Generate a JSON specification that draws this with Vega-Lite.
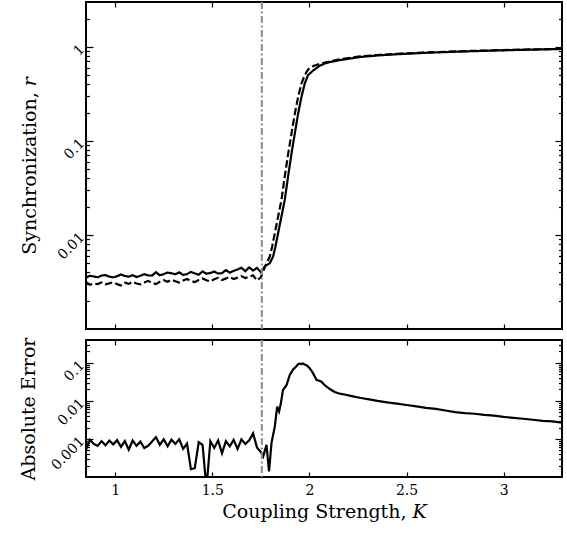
{
  "$schema": "https://vega.github.io/schema/vega-lite/v6.json",
  "padding": {"left": 18, "top": 0, "right": 4, "bottom": 2},
  "spacing": 5,
  "datasets": {
    "sync": [
      {"K":0.85,"r":0.00352,"s":"sim"},{"K":0.87,"r":0.00368,"s":"sim"},{"K":0.89,"r":0.00362,"s":"sim"},{"K":0.91,"r":0.00355,"s":"sim"},{"K":0.93,"r":0.0037,"s":"sim"},{"K":0.95,"r":0.00374,"s":"sim"},{"K":0.97,"r":0.0036,"s":"sim"},{"K":0.99,"r":0.00354,"s":"sim"},{"K":1.01,"r":0.00364,"s":"sim"},{"K":1.03,"r":0.0038,"s":"sim"},{"K":1.05,"r":0.00366,"s":"sim"},{"K":1.07,"r":0.0036,"s":"sim"},{"K":1.09,"r":0.00374,"s":"sim"},{"K":1.11,"r":0.00357,"s":"sim"},{"K":1.13,"r":0.00368,"s":"sim"},{"K":1.15,"r":0.00383,"s":"sim"},{"K":1.17,"r":0.00371,"s":"sim"},{"K":1.19,"r":0.0037,"s":"sim"},{"K":1.21,"r":0.00402,"s":"sim"},{"K":1.23,"r":0.00372,"s":"sim"},{"K":1.25,"r":0.00384,"s":"sim"},{"K":1.27,"r":0.00398,"s":"sim"},{"K":1.29,"r":0.00392,"s":"sim"},{"K":1.31,"r":0.00382,"s":"sim"},{"K":1.33,"r":0.004,"s":"sim"},{"K":1.35,"r":0.00375,"s":"sim"},{"K":1.37,"r":0.00384,"s":"sim"},{"K":1.39,"r":0.00405,"s":"sim"},{"K":1.41,"r":0.0039,"s":"sim"},{"K":1.43,"r":0.00378,"s":"sim"},{"K":1.45,"r":0.0041,"s":"sim"},{"K":1.47,"r":0.00387,"s":"sim"},{"K":1.49,"r":0.00394,"s":"sim"},{"K":1.51,"r":0.00408,"s":"sim"},{"K":1.53,"r":0.00389,"s":"sim"},{"K":1.55,"r":0.00392,"s":"sim"},{"K":1.57,"r":0.00423,"s":"sim"},{"K":1.59,"r":0.00397,"s":"sim"},{"K":1.61,"r":0.00415,"s":"sim"},{"K":1.63,"r":0.0043,"s":"sim"},{"K":1.65,"r":0.00448,"s":"sim"},{"K":1.67,"r":0.00412,"s":"sim"},{"K":1.69,"r":0.00452,"s":"sim"},{"K":1.71,"r":0.00418,"s":"sim"},{"K":1.73,"r":0.00446,"s":"sim"},{"K":1.75,"r":0.00402,"s":"sim"},
      {"K":1.76,"r":0.0043,"s":"sim"},{"K":1.77,"r":0.00464,"s":"sim"},{"K":1.796,"r":0.005,"s":"sim"},{"K":1.813,"r":0.0059,"s":"sim"},{"K":1.825,"r":0.0075,"s":"sim"},{"K":1.839,"r":0.0105,"s":"sim"},{"K":1.856,"r":0.0157,"s":"sim"},{"K":1.873,"r":0.0236,"s":"sim"},{"K":1.89,"r":0.0417,"s":"sim"},{"K":1.908,"r":0.0738,"s":"sim"},{"K":1.925,"r":0.121,"s":"sim"},{"K":1.942,"r":0.196,"s":"sim"},{"K":1.959,"r":0.294,"s":"sim"},{"K":1.976,"r":0.408,"s":"sim"},{"K":1.993,"r":0.501,"s":"sim"},{"K":2.019,"r":0.56,"s":"sim"},{"K":2.053,"r":0.63,"s":"sim"},{"K":2.079,"r":0.665,"s":"sim"},{"K":2.105,"r":0.69,"s":"sim"},{"K":2.16,"r":0.725,"s":"sim"},{"K":2.26,"r":0.78,"s":"sim"},{"K":2.35,"r":0.81,"s":"sim"},{"K":2.45,"r":0.835,"s":"sim"},{"K":2.6,"r":0.865,"s":"sim"},{"K":2.8,"r":0.895,"s":"sim"},{"K":3.0,"r":0.92,"s":"sim"},{"K":3.15,"r":0.935,"s":"sim"},{"K":3.3,"r":0.95,"s":"sim"},
      {"K":0.85,"r":0.00318,"s":"theory"},{"K":0.87,"r":0.00295,"s":"theory"},{"K":0.89,"r":0.00305,"s":"theory"},{"K":0.91,"r":0.003,"s":"theory"},{"K":0.93,"r":0.00312,"s":"theory"},{"K":0.95,"r":0.00298,"s":"theory"},{"K":0.97,"r":0.00306,"s":"theory"},{"K":0.99,"r":0.00315,"s":"theory"},{"K":1.01,"r":0.003,"s":"theory"},{"K":1.03,"r":0.0029,"s":"theory"},{"K":1.05,"r":0.0031,"s":"theory"},{"K":1.07,"r":0.00302,"s":"theory"},{"K":1.09,"r":0.00318,"s":"theory"},{"K":1.11,"r":0.00305,"s":"theory"},{"K":1.13,"r":0.00298,"s":"theory"},{"K":1.15,"r":0.00312,"s":"theory"},{"K":1.17,"r":0.00325,"s":"theory"},{"K":1.19,"r":0.0031,"s":"theory"},{"K":1.21,"r":0.003,"s":"theory"},{"K":1.23,"r":0.00318,"s":"theory"},{"K":1.25,"r":0.0033,"s":"theory"},{"K":1.27,"r":0.00318,"s":"theory"},{"K":1.29,"r":0.00335,"s":"theory"},{"K":1.31,"r":0.00322,"s":"theory"},{"K":1.33,"r":0.00312,"s":"theory"},{"K":1.35,"r":0.00328,"s":"theory"},{"K":1.37,"r":0.0034,"s":"theory"},{"K":1.39,"r":0.00325,"s":"theory"},{"K":1.41,"r":0.00315,"s":"theory"},{"K":1.43,"r":0.00332,"s":"theory"},{"K":1.45,"r":0.00345,"s":"theory"},{"K":1.47,"r":0.0033,"s":"theory"},{"K":1.49,"r":0.0032,"s":"theory"},{"K":1.51,"r":0.00338,"s":"theory"},{"K":1.53,"r":0.0035,"s":"theory"},{"K":1.55,"r":0.00332,"s":"theory"},{"K":1.57,"r":0.00345,"s":"theory"},{"K":1.59,"r":0.00358,"s":"theory"},{"K":1.61,"r":0.0034,"s":"theory"},{"K":1.63,"r":0.00352,"s":"theory"},{"K":1.65,"r":0.00365,"s":"theory"},{"K":1.67,"r":0.00348,"s":"theory"},{"K":1.69,"r":0.0036,"s":"theory"},{"K":1.71,"r":0.00372,"s":"theory"},{"K":1.73,"r":0.00328,"s":"theory"},{"K":1.75,"r":0.00355,"s":"theory"},
      {"K":1.76,"r":0.004,"s":"theory"},{"K":1.779,"r":0.005,"s":"theory"},{"K":1.796,"r":0.0059,"s":"theory"},{"K":1.808,"r":0.0075,"s":"theory"},{"K":1.822,"r":0.0105,"s":"theory"},{"K":1.839,"r":0.0157,"s":"theory"},{"K":1.856,"r":0.0236,"s":"theory"},{"K":1.873,"r":0.0417,"s":"theory"},{"K":1.891,"r":0.0738,"s":"theory"},{"K":1.908,"r":0.121,"s":"theory"},{"K":1.925,"r":0.196,"s":"theory"},{"K":1.942,"r":0.294,"s":"theory"},{"K":1.959,"r":0.408,"s":"theory"},{"K":1.976,"r":0.501,"s":"theory"},{"K":1.993,"r":0.575,"s":"theory"},{"K":2.02,"r":0.625,"s":"theory"},{"K":2.05,"r":0.655,"s":"theory"},{"K":2.08,"r":0.68,"s":"theory"},{"K":2.105,"r":0.7,"s":"theory"},{"K":2.16,"r":0.738,"s":"theory"},{"K":2.26,"r":0.792,"s":"theory"},{"K":2.35,"r":0.82,"s":"theory"},{"K":2.45,"r":0.845,"s":"theory"},{"K":2.6,"r":0.873,"s":"theory"},{"K":2.8,"r":0.902,"s":"theory"},{"K":3.0,"r":0.925,"s":"theory"},{"K":3.15,"r":0.94,"s":"theory"},{"K":3.3,"r":0.953,"s":"theory"}
    ],
    "err": [
      {"K":0.85,"e":0.00052},{"K":0.87,"e":0.00095},{"K":0.89,"e":0.00074},{"K":0.91,"e":0.00066},{"K":0.93,"e":0.00088},{"K":0.95,"e":0.00068},{"K":0.97,"e":0.00091},{"K":0.99,"e":0.00072},{"K":1.01,"e":0.00093},{"K":1.03,"e":0.00062},{"K":1.05,"e":0.00088},{"K":1.07,"e":0.00052},{"K":1.09,"e":0.00091},{"K":1.11,"e":0.00066},{"K":1.13,"e":0.00085},{"K":1.15,"e":0.00058},{"K":1.17,"e":0.00066},{"K":1.19,"e":0.00086},{"K":1.21,"e":0.00112},{"K":1.23,"e":0.0007},{"K":1.25,"e":0.00098},{"K":1.27,"e":0.00064},{"K":1.29,"e":0.00096},{"K":1.31,"e":0.00074},{"K":1.33,"e":0.00098},{"K":1.35,"e":0.00055},{"K":1.37,"e":0.00076},{"K":1.39,"e":0.00016},{"K":1.41,"e":0.00017},{"K":1.43,"e":0.00082},{"K":1.45,"e":0.0007},{"K":1.47,"e":0.00005},{"K":1.49,"e":0.00088},{"K":1.51,"e":0.00058},{"K":1.53,"e":0.00092},{"K":1.55,"e":0.00042},{"K":1.57,"e":0.00088},{"K":1.59,"e":0.00064},{"K":1.61,"e":0.00095},{"K":1.63,"e":0.00055},{"K":1.65,"e":0.00098},{"K":1.67,"e":0.00074},{"K":1.69,"e":0.00092},{"K":1.71,"e":0.0014},{"K":1.73,"e":0.0006},{"K":1.75,"e":0.00045},
      {"K":1.762,"e":0.00035},{"K":1.779,"e":0.0007},{"K":1.792,"e":0.00014},{"K":1.805,"e":0.0008},{"K":1.822,"e":0.00214},{"K":1.834,"e":0.0071},{"K":1.844,"e":0.0053},{"K":1.853,"e":0.0087},{"K":1.864,"e":0.0195},{"K":1.882,"e":0.026},{"K":1.899,"e":0.048},{"K":1.916,"e":0.067},{"K":1.933,"e":0.082},{"K":1.942,"e":0.092},{"K":1.95,"e":0.096},{"K":1.958,"e":0.093},{"K":1.967,"e":0.097},{"K":1.976,"e":0.09},{"K":1.985,"e":0.087},{"K":1.993,"e":0.08},{"K":2.002,"e":0.071},{"K":2.01,"e":0.063},{"K":2.019,"e":0.053},{"K":2.028,"e":0.043},{"K":2.036,"e":0.036},{"K":2.05,"e":0.034},{"K":2.062,"e":0.032},{"K":2.075,"e":0.027},{"K":2.088,"e":0.0238},{"K":2.1,"e":0.0215},{"K":2.113,"e":0.0194},{"K":2.13,"e":0.0172},{"K":2.156,"e":0.0155},{"K":2.18,"e":0.0148},{"K":2.207,"e":0.0138},{"K":2.23,"e":0.013},{"K":2.259,"e":0.0121},{"K":2.28,"e":0.0116},{"K":2.3,"e":0.0112},
      {"K":2.35,"e":0.01},{"K":2.4,"e":0.0092},{"K":2.45,"e":0.0085},{"K":2.5,"e":0.0078},{"K":2.55,"e":0.0072},{"K":2.6,"e":0.0066},{"K":2.65,"e":0.0062},{"K":2.7,"e":0.0056},{"K":2.75,"e":0.0051},{"K":2.8,"e":0.0048},{"K":2.85,"e":0.0046},{"K":2.9,"e":0.0043},{"K":2.95,"e":0.0041},{"K":3.0,"e":0.0038},{"K":3.05,"e":0.0036},{"K":3.1,"e":0.0034},{"K":3.15,"e":0.0032},{"K":3.2,"e":0.003},{"K":3.25,"e":0.0029},{"K":3.3,"e":0.0027}
    ],
    "crit": [{"K": 1.755}]
  },
  "config": {
    "view": {"stroke": "black", "strokeWidth": 2},
    "font": "DejaVu Serif",
    "axis": {
      "grid": false, "domain": false,
      "labelFont": "DejaVu Serif", "titleFont": "DejaVu Serif",
      "labelFontSize": 14, "titleFontSize": 19, "titleFontWeight": "normal",
      "labelColor": "black", "titleColor": "black", "tickColor": "black", "tickWidth": 1.2,
      "labelOverlap": false
    }
  },
  "vconcat": [
    {
      "width": 476, "height": 327,
      "resolve": {"axis": {"x": "independent", "y": "independent"}},
      "layer": [
        {
          "data": {"name": "sync"},
          "mark": {"type": "line", "color": "black", "strokeWidth": 2.2, "clip": true},
          "encoding": {
            "x": {"field": "K", "type": "quantitative", "scale": {"domain": [0.85, 3.3], "nice": false, "zero": false},
                  "axis": {"orient": "bottom", "labels": false, "title": null, "values": [1, 1.5, 2, 2.5, 3], "tickSize": -5}},
            "y": {"field": "r", "type": "quantitative", "scale": {"type": "log", "domain": [0.001, 3], "nice": false},
                  "axis": {"orient": "left", "title": "Synchronization, 𝑟", "values": [0.01, 0.1, 1], "ticks": false,
                           "labelAngle": -45, "labelAlign": "right", "labelBaseline": "middle",
                           "labelExpr": "format(datum.value, '~g')", "labelPadding": 4, "titlePadding": 16}},
            "strokeDash": {"field": "s", "type": "nominal", "scale": {"domain": ["sim", "theory"], "range": [[1, 0], [7.4, 3.2]]}, "legend": null}
          }
        },
        {
          "data": {"name": "crit"},
          "mark": {"type": "rule", "color": "#9c8487", "strokeWidth": 2, "strokeDash": [7, 2.5, 2, 2.5]},
          "encoding": {
            "x": {"field": "K", "type": "quantitative", "scale": {"domain": [0.85, 3.3], "nice": false, "zero": false},
                  "axis": {"orient": "top", "labels": false, "title": null, "values": [1, 1.5, 2, 2.5, 3], "tickSize": -5}}
          }
        },
        {
          "data": {"name": "sync"},
          "mark": {"type": "line", "strokeOpacity": 0},
          "encoding": {
            "x": {"field": "K", "type": "quantitative", "axis": null},
            "y": {"field": "r", "type": "quantitative", "axis": {"orient": "left", "labels": false, "title": null, "values": [0.01, 0.1, 1], "tickSize": -7}}
          }
        },
        {
          "data": {"name": "sync"},
          "mark": {"type": "line", "strokeOpacity": 0},
          "encoding": {
            "x": {"field": "K", "type": "quantitative", "axis": null},
            "y": {"field": "r", "type": "quantitative", "axis": {"orient": "right", "labels": false, "title": null, "values": [0.01, 0.1, 1], "tickSize": -7}}
          }
        },
        {
          "data": {"name": "sync"},
          "mark": {"type": "line", "strokeOpacity": 0},
          "encoding": {
            "x": {"field": "K", "type": "quantitative", "axis": null},
            "y": {"field": "r", "type": "quantitative", "axis": {"orient": "left", "labels": false, "title": null, "values": [0.002,0.003,0.004,0.005,0.006,0.007,0.008,0.009,0.02,0.03,0.04,0.05,0.06,0.07,0.08,0.09,0.2,0.3,0.4,0.5,0.6,0.7,0.8,0.9,2], "tickSize": -3.5}}
          }
        },
        {
          "data": {"name": "sync"},
          "mark": {"type": "line", "strokeOpacity": 0},
          "encoding": {
            "x": {"field": "K", "type": "quantitative", "axis": null},
            "y": {"field": "r", "type": "quantitative", "axis": {"orient": "right", "labels": false, "title": null, "values": [0.002,0.003,0.004,0.005,0.006,0.007,0.008,0.009,0.02,0.03,0.04,0.05,0.06,0.07,0.08,0.09,0.2,0.3,0.4,0.5,0.6,0.7,0.8,0.9,2], "tickSize": -3.5}}
          }
        }
      ]
    },
    {
      "width": 476, "height": 137,
      "resolve": {"axis": {"x": "independent", "y": "independent"}},
      "layer": [
        {
          "data": {"name": "err"},
          "mark": {"type": "line", "color": "black", "strokeWidth": 2.2, "clip": true},
          "encoding": {
            "x": {"field": "K", "type": "quantitative", "scale": {"domain": [0.85, 3.3], "nice": false, "zero": false},
                  "axis": {"orient": "bottom", "ticks": false, "title": "Coupling Strength, 𝐾", "values": [1, 1.5, 2, 2.5, 3],
                           "labelExpr": "format(datum.value, '~g')", "labelPadding": 6, "titlePadding": 5, "labelFlush": false}},
            "y": {"field": "e", "type": "quantitative", "scale": {"type": "log", "domain": [0.0001, 0.4], "nice": false},
                  "axis": {"orient": "left", "title": "Absolute Error", "values": [0.001, 0.01, 0.1], "ticks": false,
                           "labelAngle": -45, "labelAlign": "right", "labelBaseline": "middle",
                           "labelExpr": "format(datum.value, '~g')", "labelPadding": 4, "titlePadding": 10}}
          }
        },
        {
          "data": {"name": "crit"},
          "mark": {"type": "rule", "color": "#9c8487", "strokeWidth": 2, "strokeDash": [7, 2.5, 2, 2.5]},
          "encoding": {
            "x": {"field": "K", "type": "quantitative", "scale": {"domain": [0.85, 3.3], "nice": false, "zero": false},
                  "axis": {"orient": "top", "labels": false, "title": null, "values": [1, 1.5, 2, 2.5, 3], "tickSize": -5}}
          }
        },
        {
          "data": {"name": "err"},
          "mark": {"type": "line", "strokeOpacity": 0},
          "encoding": {
            "x": {"field": "K", "type": "quantitative", "axis": {"orient": "bottom", "labels": false, "title": null, "values": [1, 1.5, 2, 2.5, 3], "tickSize": -5}},
            "y": {"field": "e", "type": "quantitative", "axis": {"orient": "left", "labels": false, "title": null, "values": [0.001, 0.01, 0.1], "tickSize": -7}}
          }
        },
        {
          "data": {"name": "err"},
          "mark": {"type": "line", "strokeOpacity": 0},
          "encoding": {
            "x": {"field": "K", "type": "quantitative", "axis": null},
            "y": {"field": "e", "type": "quantitative", "axis": {"orient": "right", "labels": false, "title": null, "values": [0.001, 0.01, 0.1], "tickSize": -7}}
          }
        },
        {
          "data": {"name": "err"},
          "mark": {"type": "line", "strokeOpacity": 0},
          "encoding": {
            "x": {"field": "K", "type": "quantitative", "axis": null},
            "y": {"field": "e", "type": "quantitative", "axis": {"orient": "left", "labels": false, "title": null, "values": [0.0002,0.0003,0.0004,0.0005,0.0006,0.0007,0.0008,0.0009,0.002,0.003,0.004,0.005,0.006,0.007,0.008,0.009,0.02,0.03,0.04,0.05,0.06,0.07,0.08,0.09,0.2,0.3], "tickSize": -3.5}}
          }
        },
        {
          "data": {"name": "err"},
          "mark": {"type": "line", "strokeOpacity": 0},
          "encoding": {
            "x": {"field": "K", "type": "quantitative", "axis": null},
            "y": {"field": "e", "type": "quantitative", "axis": {"orient": "right", "labels": false, "title": null, "values": [0.0002,0.0003,0.0004,0.0005,0.0006,0.0007,0.0008,0.0009,0.002,0.003,0.004,0.005,0.006,0.007,0.008,0.009,0.02,0.03,0.04,0.05,0.06,0.07,0.08,0.09,0.2,0.3], "tickSize": -3.5}}
          }
        }
      ]
    }
  ]
}
